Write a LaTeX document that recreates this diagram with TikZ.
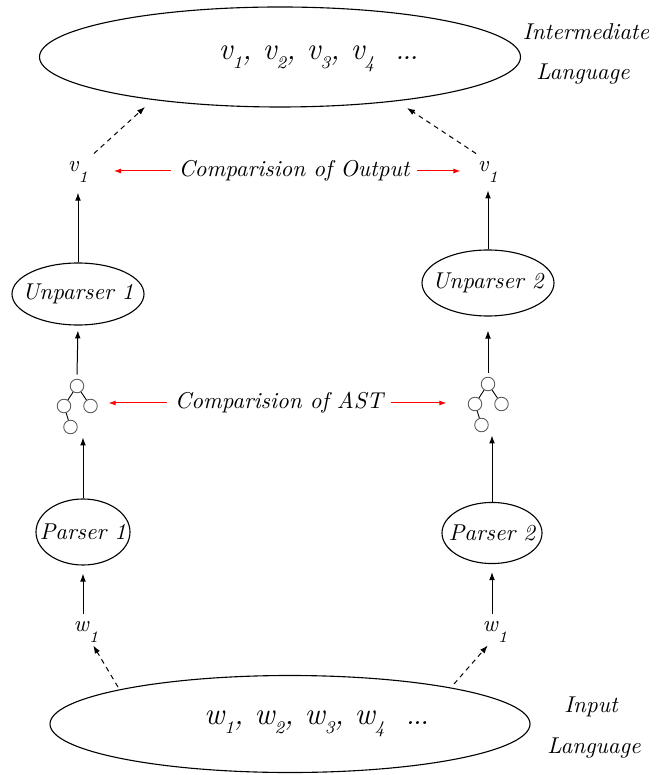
\documentclass[tikz,border=0pt]{standalone}
\usetikzlibrary{shapes.geometric,arrows.meta,calc}
\newcommand{\lsub}[2]{\textit{#1}\raisebox{-5pt}{\fontsize{7.2}{8}\selectfont\itshape #2}}
\newcommand{\bsub}[2]{\textit{#1}\raisebox{-4.2pt}{\fontsize{8}{9}\selectfont\itshape #2}}
\newcommand{\bdots}{{\fontsize{9}{9}\selectfont\bfseries ...}}
\begin{document}
\begin{tikzpicture}[x=0.45pt,y=-0.45pt,
  every node/.style={font=\itshape\fontsize{10.3}{12}\selectfont},
  ell/.style={draw,ellipse,inner sep=0pt,line width=0.5pt},
  lbl/.style={inner sep=3.33pt},
  arr/.style={-{Latex[length=3.6pt,width=2.6pt]},line width=0.45pt},
  darr/.style={-{Latex[length=3.6pt,width=2.6pt]},line width=0.45pt,dash pattern=on 2.2pt off 1.9pt},
  rarr/.style={-{Latex[length=3.2pt,width=2.3pt]},line width=0.45pt,red},
  tc/.style={draw=black!65,circle,inner sep=0pt,minimum size=6.1pt,line width=0.4pt},
  astbox/.style={inner sep=0pt,minimum width=18pt,minimum height=27.9pt},
  big/.style={font=\itshape\fontsize{14}{16}\selectfont}
]
\useasboundingbox (0,0) rectangle (662,775);

% top and bottom ellipses
\node[ell,minimum width=216.45pt,minimum height=45pt] (top) at (280,57) {};
\node[big] (toptext) at (318,59) {\bsub{v}{1}, \bsub{v}{2}, \bsub{v}{3}, \bsub{v}{4}~~\bdots};
\node (interm) at (586,32) {Intermediate};
\node (lang1) at (583,74) {Language};

\node[ell,minimum width=216pt,minimum height=43.65pt] (bot) at (290,724) {};
\node[big] (bottext) at (316,724) {\bsub{w}{1}, \bsub{w}{2}, \bsub{w}{3}, \bsub{w}{4}~~\bdots};
\node (inp) at (591,707) {Input};
\node (lang2) at (594,748) {Language};

% v1 labels
\node[lbl] (v1l) at (78,172) {\lsub{v}{1}};
\node[lbl] (v1r) at (488,172) {\lsub{v}{1}};
\node (cmpout) at (294,171) {Comparision of Output};

% unparsers
\node[ell,minimum width=59.4pt,minimum height=27.9pt] (up1) at (78,294) {};
\node (up1t) at (up1) {Unparser 1};
\node[ell,minimum width=59.4pt,minimum height=29.7pt] (up2) at (488,283) {};
\node (up2t) at (up2) {Unparser 2};

% ASTs
\node[astbox] (ast1) at (77,406) {};
\node[tc] (a1t) at ($(ast1)+(0,-20)$) {};
\node[tc] (a1l) at ($(ast1)+(-13,0)$) {};
\node[tc] (a1r) at ($(ast1)+(13.5,0)$) {};
\node[tc] (a1b) at ($(ast1)+(-6.5,21)$) {};
\draw (a1t) -- (a1l) (a1t) -- (a1r) (a1l) -- (a1b);

\node[astbox] (ast2) at (488,404) {};
\node[tc] (a2t) at ($(ast2)+(0,-20)$) {};
\node[tc] (a2l) at ($(ast2)+(-13,0)$) {};
\node[tc] (a2r) at ($(ast2)+(13.5,0)$) {};
\node[tc] (a2b) at ($(ast2)+(-6.5,21)$) {};
\draw (a2t) -- (a2l) (a2t) -- (a2r) (a2l) -- (a2b);

\node (cmpast) at (279,403) {Comparision of AST};

% parsers
\node[ell,minimum width=42.3pt,minimum height=29.7pt] (p1) at (83,532) {};
\node (p1t) at (p1) {Parser 1};
\node[ell,minimum width=45pt,minimum height=27.5pt] (p2) at (492,533) {};
\node (p2t) at (p2) {Parser 2};

% w1 labels
\node[lbl] (w1l) at (86,632) {\lsub{w}{1}};
\node[lbl] (w1r) at (495,632) {\lsub{w}{1}};

% vertical arrows
\draw[arr,shorten >=3.6pt] (w1l.north -| p1) -- (p1.south);
\draw[arr] (p1.north) -- (p1.north |- ast1.south);
\draw[arr,shorten >=2.2pt] (ast1.north) -- (up1.south);
\draw[arr,shorten >=1pt] (up1.north) -- (v1l.south);

\draw[arr,shorten >=3.6pt] (w1r.north -| p2) -- (p2.south);
\draw[arr] (p2.north) -- (p2.north |- ast2.south);
\draw[arr,shorten >=6.3pt] (ast2.north) -- (up2.south);
\draw[arr] (up2.north) -- (v1r.south);

% red comparison arrows
\draw[rarr,shorten >=8.1pt] (cmpout.west) -- (cmpout.west -| v1l.east);
\draw[rarr,shorten >=4.3pt] (cmpout.east) -- (cmpout.east -| v1r.west);
\draw[rarr,shorten >=5pt] (cmpast.west) -- (cmpast.west -| ast1.east);
\draw[rarr,shorten >=9.5pt] (cmpast.east) -- (cmpast.east -| ast2.west);

% dashed arrows
\coordinate (tl) at (145,107);
\coordinate (tr) at (407,108);
\coordinate (bl) at (118,687);
\coordinate (br) at (454,684);
\draw[darr] ($(v1l.north east)+(-2,0)$) -- (tl);
\draw[darr] ($(v1r.north west)+(6,0)$) -- (tr);
\draw[darr] (bl) -- ($(w1l.south east)+(-13,-5)$);
\draw[darr] (br) -- ($(w1r.south west)+(13,-5)$);
\end{tikzpicture}
\end{document}
